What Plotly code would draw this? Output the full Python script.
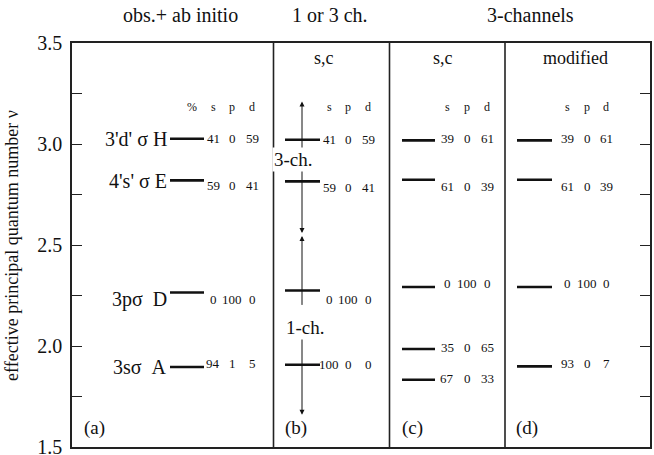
import plotly.graph_objects as go

# ---- data: effective principal quantum numbers and s/p/d character (%) ----
nu_a = [3.026, 2.820, 2.265, 1.896]
state_a = ["3'd' σ H", "4's' σ E", "3pσ\u00a0 D", "3sσ\u00a0 A"]
s_a = [41, 59, 0, 94]
p_a = [0, 0, 100, 1]
d_a = [59, 41, 0, 5]

nu_b = [3.021, 2.815, 2.275, 1.907]
s_b = [41, 59, 0, 100]
p_b = [0, 0, 100, 0]
d_b = [59, 41, 0, 0]

nu_c = [3.018, 2.823, 2.292, 1.985, 1.833]
s_c = [39, 61, 0, 35, 67]
p_c = [0, 0, 100, 0, 0]
d_c = [61, 39, 0, 65, 33]

nu_d = [3.018, 2.823, 2.292, 1.899]
s_d = [39, 61, 0, 93]
p_d = [0, 0, 100, 0]
d_d = [61, 39, 0, 7]

panel_tags = ["(a)", "(b)", "(c)", "(d)"]
panel_heads = ["", "s,c", "s,c", "modified"]
group_heads = ["obs.+ ab initio", "1 or 3 ch.", "3-channels"]
y_ticks = [1.5, 1.75, 2.0, 2.25, 2.5, 2.75, 3.0, 3.25, 3.5]
y_tick_text = ["1.5", "", "2.0", "", "2.5", "", "3.0", "", "3.5"]

# ---- layout geometry (x in pixel-like units of the x axis) ----
FONT = "Liberation Serif, Times New Roman, DejaVu Serif, serif"
X0, X1 = 72, 650
dividers = [273.5, 389.5, 505]
panels = [
    dict(nu=nu_a, s=s_a, p=p_a, d=d_a, lx=(170, 204), cols=(213, 232, 252),
         dy=[0, 5.5, 7, -4], tagx=94, headx=None),
    dict(nu=nu_b, s=s_b, p=p_b, d=d_b, lx=(285, 320), cols=(329, 348, 368),
         dy=[0, 6.5, 9, 0], tagx=296, headx=324),
    dict(nu=nu_c, s=s_c, p=p_c, d=d_c, lx=(402, 435), cols=(447, 467, 487),
         dy=[-1.7, 7, -4, -1.7, -1], tagx=412, headx=443),
    dict(nu=nu_d, s=s_d, p=p_d, d=d_d, lx=(517, 552), cols=(567, 587, 606),
         dy=[-1.7, 7, -4, -3.4], tagx=527, headx=575),
]
state_dy = [0, 1, 7, 0]

fig = go.Figure()
ann = []

for k, pn in enumerate(panels):
    xs, ys = [], []
    for v in pn["nu"]:
        xs += [pn["lx"][0], pn["lx"][1], None]
        ys += [v, v, None]
    fig.add_trace(go.Scatter(x=xs, y=ys, mode="lines", hoverinfo="skip",
                             line=dict(color="#111", width=2.6), showlegend=False))
    # composition columns
    for i, v in enumerate(pn["nu"]):
        for c, val in zip(pn["cols"], (pn["s"][i], pn["p"][i], pn["d"][i])):
            ann.append(dict(x=c, y=v, xref="x", yref="y", text=str(val), showarrow=False,
                            xanchor="center", yanchor="middle", yshift=-pn["dy"][i],
                            font=dict(family=FONT, size=13, color="#111")))
    # s p d header
    for c, t in zip(pn["cols"], ("s", "p", "d")):
        ann.append(dict(x=c, y=3.185, xref="x", yref="y", text=t, showarrow=False,
                        xanchor="center", yanchor="middle",
                        font=dict(family=FONT, size=12, color="#111")))
    ann.append(dict(x=pn["tagx"], y=1.596, xref="x", yref="y", text=panel_tags[k],
                    showarrow=False, xanchor="center", yanchor="middle",
                    font=dict(family=FONT, size=19, color="#111")))
    if pn["headx"] is not None:
        ann.append(dict(x=pn["headx"], y=3.427, xref="x", yref="y", text=panel_heads[k],
                        showarrow=False, xanchor="center", yanchor="middle",
                        font=dict(family=FONT, size=18, color="#111")))

ann.append(dict(x=192, y=3.185, xref="x", yref="y", text="%", showarrow=False,
                xanchor="center", yanchor="middle", font=dict(family=FONT, size=12, color="#111")))

# state labels of panel (a)
for i, v in enumerate(nu_a):
    ann.append(dict(x=169, y=v, xref="x", yref="y", text=state_a[i], showarrow=False,
                    xanchor="right", yanchor="middle", yshift=-state_dy[i],
                    font=dict(family=FONT, size=20, color="#111")))

# channel arrows in panel (b)
XA = 302
arrow_style = dict(xref="x", yref="y", axref="x", ayref="y", text="", showarrow=True,
                   arrowcolor="#111", arrowwidth=1, arrowhead=2, arrowsize=1.0,
                   startarrowhead=2, startarrowsize=1.0)
ann.append(dict(x=XA, y=3.21, ax=XA, ay=2.552, arrowside="end+start", **arrow_style))
ann.append(dict(x=XA, y=2.545, ax=XA, ay=2.196, arrowside="end", **arrow_style))
ann.append(dict(x=XA, y=1.66, ax=XA, ay=2.07, arrowside="end", **arrow_style))
for t, xx, yy in (("3-ch.", 293.5, 2.922), ("1-ch.", 305, 2.09)):
    ann.append(dict(x=xx, y=yy, xref="x", yref="y", text=t, showarrow=False,
                    xanchor="center", yanchor="middle", bgcolor="white",
                    font=dict(family=FONT, size=19, color="#111")))

# group headings above the frame
for t, xx in zip(group_heads, (180, 330, 530)):
    ann.append(dict(x=xx, y=1.069, xref="x", yref="paper", text=t, showarrow=False,
                    xanchor="center", yanchor="middle",
                    font=dict(family=FONT, size=20, color="#111")))

# y-axis title
ann.append(dict(x=-0.104, y=0.5, xref="paper", yref="paper",
                text="effective principal quantum number ν", showarrow=False, textangle=-90,
                xanchor="center", yanchor="middle", font=dict(family=FONT, size=18, color="#111")))

shapes = [dict(type="line", xref="x", yref="y", x0=xv, x1=xv, y0=1.5, y1=3.5,
               line=dict(color="#222", width=1.6)) for xv in dividers]

fig.update_layout(
    width=654, height=455,
    margin=dict(l=72, r=4, t=43, b=8, autoexpand=False),
    paper_bgcolor="white", plot_bgcolor="white",
    showlegend=False,
    font=dict(family=FONT),
    annotations=ann, shapes=shapes,
    xaxis=dict(range=[X0, X1], showgrid=False, zeroline=False, showticklabels=False,
               ticks="", showline=True, mirror=True, linecolor="#222", linewidth=1.6,
               fixedrange=True, automargin=False),
    yaxis=dict(range=[1.5, 3.5], showgrid=False, zeroline=False, tickvals=y_ticks,
               ticktext=y_tick_text, ticks="inside", ticklen=10, tickwidth=1.2,
               tickcolor="#222", mirror="ticks", showline=True, linecolor="#222",
               linewidth=1.6, ticklabelstandoff=4, ticklabeloverflow="allow",
               automargin=False,
               tickfont=dict(family=FONT, size=20, color="#111"), fixedrange=True),
)

fig.write_html("out.html")
